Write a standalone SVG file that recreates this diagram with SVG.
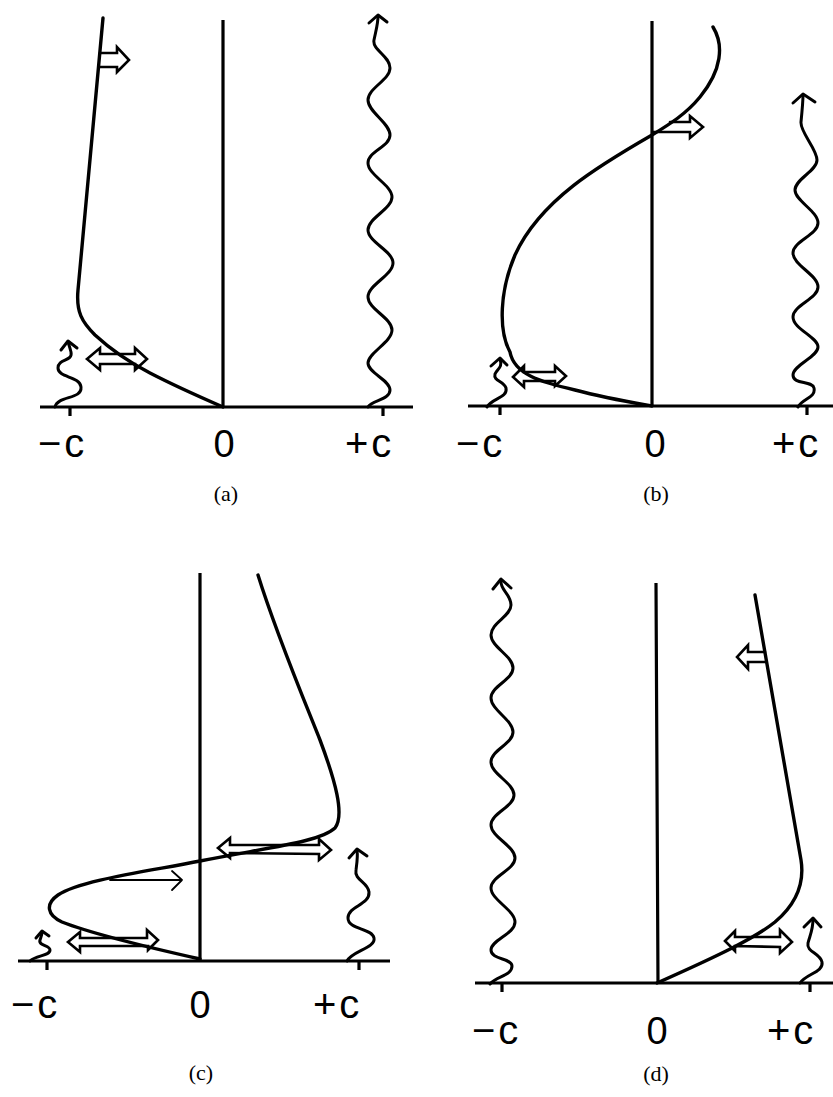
<svg xmlns="http://www.w3.org/2000/svg" width="833" height="1097" viewBox="0 0 833 1097">
<style>
.ln{fill:none;stroke:#000;stroke-width:3.2;stroke-linecap:butt;stroke-linejoin:round}
.cv{fill:none;stroke:#000;stroke-width:3.4;stroke-linecap:round;stroke-linejoin:round}
.wv{fill:none;stroke:#000;stroke-width:3;stroke-linecap:round;stroke-linejoin:round}
.ar{fill:none;stroke:#000;stroke-width:2.6;stroke-linejoin:miter;stroke-linecap:round}
.th{fill:none;stroke:#000;stroke-width:1.8;stroke-linecap:round;stroke-linejoin:round}
.lab{font-family:"Liberation Sans",Arial,sans-serif;font-size:40px;fill:#000}
.zero{font-family:"Liberation Sans",Arial,sans-serif;font-size:38px;fill:#000;text-anchor:middle}
.cap{font-family:"Liberation Serif","Times New Roman",serif;font-size:22px;fill:#000;text-anchor:middle}
</style>
<rect width="833" height="1097" fill="#fff"/>

<g id="panel-a">
  <g id="a-axes">
    <path class="ln" d="M40 407 L413 407 M223 20 L223 407 M70 407 L70 416 M383 407 L383 416"/>
  </g>
  <g id="a-curve">
    <path class="cv" d="M103 18 L78 290 C76 312 82 322 95 335 C108 347 125 360 150 373 C175 386 200 397 223 407"/>
  </g>
  <g id="a-arrows">
    <path class="ar" d="M100 53 L117 53 L117 47 L129 60 L117 72 L117 67 L99 67"/>
    <path class="ar" d="M87 359 L100 348 L100 354 L135 354 L135 348 L147 359 L135 370 L135 364 L100 364 L100 370 Z"/>
  </g>
  <g id="a-waves">
    <path class="wv" d="M368 407 C372 400 390 400 390 390 S368 373 368 363 S392 342 392 330 S368 309 368 297 S393 275 393 263 S368 242 368 230 S392 209 392 197 S368 175 368 163 S390 147 390 135 S368 112 368 100 S390 80 390 68 S372 50 374 40 S378 24 378 16"/>
    <path class="wv" d="M369 23 L378 15 L387 22"/>
    <path class="wv" d="M55 407 C58 395 82 400 81 387 C80 376 58 378 58 368 C58 358 73 362 71 352 C70 348 69 345 68 342"/>
    <path class="wv" d="M61 350 L68 341 L77 348"/>
  </g>
  <g id="a-labels">
    <text class="lab" x="38" y="457" letter-spacing="3">−c</text>
    <text class="zero" x="224" y="457">0</text>
    <text class="lab" x="345" y="457" letter-spacing="3">+c</text>
    <text class="cap" x="226" y="501">(a)</text>
  </g>
</g>

<g id="panel-b">
  <g id="b-axes">
    <path class="ln" d="M468 406 L833 406 M652 21 L652 406 M500 406 L500 415 M807 406 L807 415"/>
  </g>
  <g id="b-curve">
    <path class="cv" d="M713 27 C724 45 722 70 700 97 C686 114 670 124 652 135 C600 165 540 200 515 255 C500 290 498 330 510 352 C514 374 540 382 575 390 C605 398 635 403 652 406"/>
  </g>
  <g id="b-arrows">
    <path class="ar" d="M670 122 L690 122 L690 116 L703 127 L690 138 L690 132 L653 132"/>
    <path class="ar" d="M513 377 L524 366 L524 372 L555 372 L555 366 L566 376 L555 386 L555 381 L524 381 L524 387 Z"/>
  </g>
  <g id="b-waves">
    <path class="wv" d="M798 407 C803 398 816 398 814 388 C812 380 793 385 793 375 S818 357 818 347 S793 329 793 317 S818 299 818 287 S793 265 793 253 S818 235 818 223 S795 201 795 190 S817 171 817 160 S800 132 801 122 S803 102 803 95"/>
    <path class="wv" d="M793 103 L803 94 L815 102"/>
    <path class="wv" d="M487 407 C492 398 508 398 506 388 C504 381 493 381 495 374 C497 369 503 368 500 359"/>
    <path class="wv" d="M491 366 L500 358 L507 365"/>
  </g>
  <g id="b-labels">
    <text class="lab" x="456" y="457" letter-spacing="3">−c</text>
    <text class="zero" x="655" y="457">0</text>
    <text class="lab" x="772" y="457" letter-spacing="3">+c</text>
    <text class="cap" x="656" y="501">(b)</text>
  </g>
</g>

<g id="panel-c">
  <g id="c-axes">
    <path class="ln" d="M18 961 L390 961 M200 573 L200 961 M47 961 L47 970 M359 961 L359 970"/>
  </g>
  <g id="c-curve">
    <path class="cv" d="M258 575 C275 630 300 690 320 740 C335 780 345 815 335 828 C320 842 270 847 200 861 C150 871 80 880 58 895 C45 904 47 915 62 922 C95 935 160 950 200 959"/>
  </g>
  <g id="c-arrows">
    <path class="ar" d="M218 848 L230 838 L230 845 L319 845 L319 839 L331 850 L319 860 L319 854 L230 853 L230 858 Z"/>
    <path class="th" d="M110 880 L182 880 M172 871 L182 880 L172 890"/>
    <path class="ar" d="M68 942 L80 932 L80 938 L147 938 L147 930 L158 940 L148 950 L148 946 L80 946 L80 952 Z"/>
  </g>
  <g id="c-waves">
    <path class="wv" d="M347 961 C352 951 376 948 374 938 C372 928 348 930 348 918 C348 906 370 905 369 892 C368 882 354 880 356 870 C357 862 358 856 357 851"/>
    <path class="wv" d="M349 858 L357 849 L367 856"/>
    <path class="wv" d="M30 961 C36 955 50 956 50 950 C50 945 38 946 40 940 C41 937 42 935 42 932"/>
    <path class="wv" d="M36 938 L42 931 L49 936"/>
  </g>
  <g id="c-labels">
    <text class="lab" x="11" y="1018" letter-spacing="3">−c</text>
    <text class="zero" x="200" y="1018">0</text>
    <text class="lab" x="313" y="1018" letter-spacing="3">+c</text>
    <text class="cap" x="201" y="1080">(c)</text>
  </g>
</g>

<g id="panel-d">
  <g id="d-axes">
    <path class="ln" d="M475 983 L833 983 M656 583 L658 983 M502 983 L502 992 M810 983 L810 992"/>
  </g>
  <g id="d-curve">
    <path class="cv" d="M755 595 L801 860 C805 885 795 905 775 922 C755 938 720 955 657 983"/>
  </g>
  <g id="d-arrows">
    <path class="ar" d="M765 652 L748 652 L748 645 L737 657 L748 669 L748 662 L766 662"/>
    <path class="ar" d="M725 941 L735 931 L735 937 L780 937 L780 930 L792 942 L780 953 L780 947 L735 946 L735 951 Z"/>
  </g>
  <g id="d-waves">
    <path class="wv" d="M490 984 C496 976 512 976 512 966 C512 958 491 960 491 950 S515 934 515 922 S491 900 491 888 S515 870 515 858 S491 837 491 825 S514 807 514 795 S491 774 491 762 S513 744 513 732 S491 710 491 698 S513 680 513 668 S491 647 491 635 S511 616 511 605 S500 590 501 581"/>
    <path class="wv" d="M493 589 L501 579 L511 588"/>
    <path class="wv" d="M800 983 C806 974 824 972 822 962 C820 953 806 952 808 943 C810 935 813 930 813 919"/>
    <path class="wv" d="M804 927 L813 918 L821 927"/>
  </g>
  <g id="d-labels">
    <text class="lab" x="472" y="1044" letter-spacing="3">−c</text>
    <text class="zero" x="657" y="1044">0</text>
    <text class="lab" x="767" y="1044" letter-spacing="3">+c</text>
    <text class="cap" x="656" y="1081">(d)</text>
  </g>
</g>
</svg>
